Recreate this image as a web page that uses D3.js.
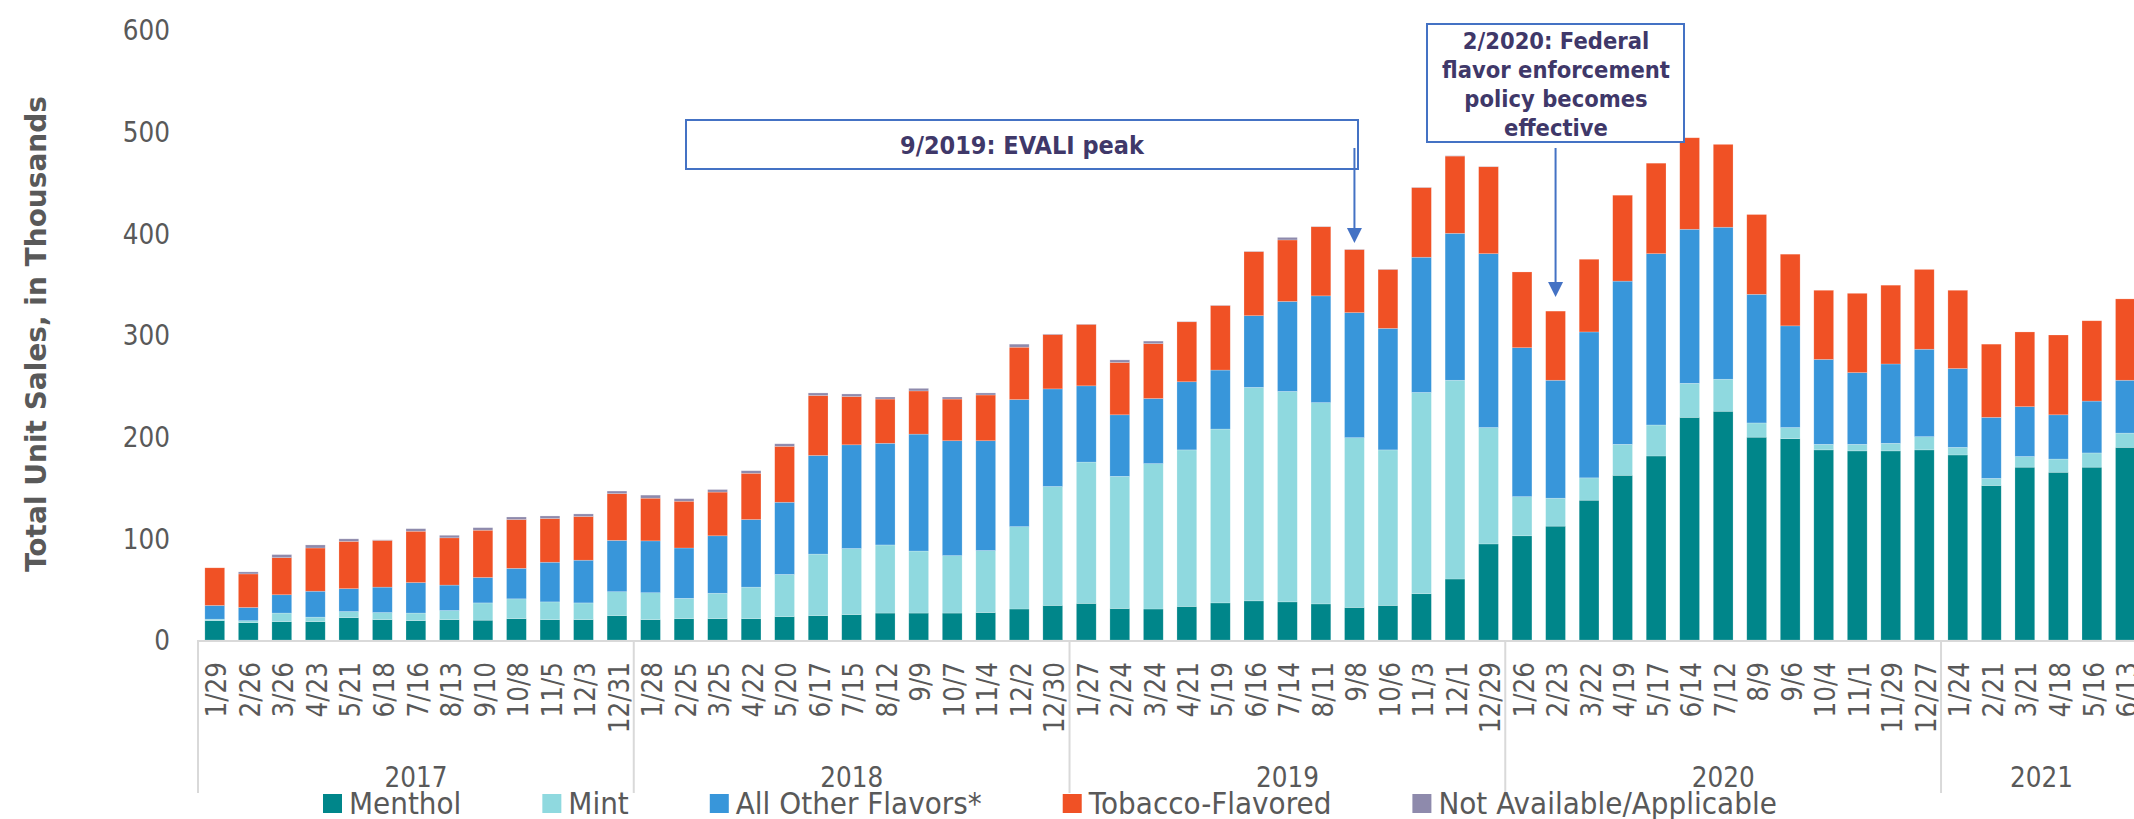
<!DOCTYPE html>
<html>
<head>
<meta charset="utf-8">
<script src="https://cdn.jsdelivr.net/npm/d3@7"></script>
<style>
  html, body { margin: 0; padding: 0; background: #ffffff; }
  svg { display: block; }
</style>
</head>
<body>
<svg id="chart" width="2134" height="819"></svg>
<script>
// ---------------- DATA ----------------
const dates = ["1/29","2/26","3/26","4/23","5/21","6/18","7/16","8/13","9/10","10/8","11/5","12/3","12/31",
  "1/28","2/25","3/25","4/22","5/20","6/17","7/15","8/12","9/9","10/7","11/4","12/2","12/30",
  "1/27","2/24","3/24","4/21","5/19","6/16","7/14","8/11","9/8","10/6","11/3","12/1","12/29",
  "1/26","2/23","3/22","4/19","5/17","6/14","7/12","8/9","9/6","10/4","11/1","11/29","12/27",
  "1/24","2/21","3/21","4/18","5/16","6/13"];
const years = ["2017","2018","2019","2020","2021"];
const yearSizes = [13, 13, 13, 13, 6];

const menthol = [19,17,18,18,22,20,19,20,19.5,21,20,20,24,
  20,21,21,21,23,24,25,26.5,26.5,26.5,27,30.5,34,
  36,31,30.5,33,36.5,38.5,37.5,35.5,32,34,45.5,60,94.5,
  102.5,112,137.5,162,181,219,225,199.5,198,187,186,186,187,
  182,152,170,165,170,189.5];
const mint = [1.5,2,8.5,4.5,6,7,7.5,9,17,19.5,17.5,16.5,23.5,
  26.5,20,25,31,41.5,60.5,65,67,61,56.5,61,81,117,
  139,130,143,154,171,210,207,198,167,153,198,195.5,114.5,
  38.5,27.5,22,30.5,30.5,33.5,31.5,14,11,5.5,6.5,7.5,13,
  7.5,7,10.5,13,14,14];
const otherFlavors = [13.5,13,18,25.5,22.5,25,30,25,25,30,39,42,50.5,
  51,49.5,56.5,66.5,71,97,102,100,115,113,108,125,96,
  75,60.5,64,67,58,70.5,88.5,105,123,119.5,133,144.5,171,
  146.5,116,143.5,160.5,168.5,151.5,149.5,126.5,100,83.5,70.5,78,86,
  77.5,60,49,43.5,51,52];
const tobacco = [37,33,36.5,42.5,46.5,46,50.5,46.5,46.5,48,43,43,46,
  42,46,43,45.5,55,59,47.5,43.5,42.5,41,45,51.5,53.5,
  60.5,51.5,54,59,63.5,63,60.5,68,62,58,68.5,76,85.5,
  74.5,68,71.5,84.5,89,90,81.5,78.5,70.5,68,78,77.5,78.5,
  77,72,73.5,78.5,79,80];
const notAvailable = [0,2,3,3,2.5,0.5,2.5,2.5,2.5,2.5,2.5,2.5,2.5,
  3,2.5,2.5,2.5,2.5,2.5,2.5,2,2.5,2,2,3,0.5,
  0.3,2.5,2.5,0.3,0.3,0.3,2.5,0.3,0.3,0.3,0.3,0.3,0.3,
  0,0,0,0,0,0,0,0,0,0,0,0,0,
  0,0,0,0,0,0];

const seriesKeys = ["menthol","mint","other","tobacco","na"];
const seriesNames = ["Menthol","Mint","All Other Flavors*","Tobacco-Flavored","Not Available/Applicable"];
const seriesColors = ["#00868A","#8FD9DF","#3896DA","#F05125","#8E8AAC"];
const yTicks = [0,100,200,300,400,500,600];
const yTitle = "Total Unit Sales, in Thousands";

const ann1 = { text: ["9/2019: EVALI peak"], target: "9/8", group: 2 };
const ann2 = { text: ["2/2020: Federal","flavor enforcement","policy becomes","effective"], target: "2/23", group: 3 };

// ---------------- SETUP ----------------
const svg = d3.select("#chart");
const W = 2134, H = 819;
const FONT = "'DejaVu Sans', Verdana, sans-serif";
const SQ = 0.9; // horizontal squeeze to mimic Tahoma
const GRAY = "#595959";

const n = dates.length;
const x0 = 198, step = 33.52;
const x = d3.scaleBand()
  .domain(d3.range(n))
  .range([x0, x0 + n * step])
  .paddingInner(0.41)
  .paddingOuter(0.205);

const y = d3.scaleLinear().domain([0, 600]).range([640, 30]);

const rows = dates.map((d, i) => ({
  i, menthol: menthol[i], mint: mint[i], other: otherFlavors[i], tobacco: tobacco[i], na: notAvailable[i]
}));
const stacked = d3.stack().keys(seriesKeys)(rows);

// ---------------- BARS ----------------
const gBars = svg.append("g");
gBars.selectAll("g.series")
  .data(stacked)
  .join("g")
  .attr("class", "series")
  .attr("fill", (d, k) => seriesColors[k])
  .selectAll("rect")
  .data(d => d)
  .join("rect")
  .attr("x", d => x(d.data.i))
  .attr("width", x.bandwidth())
  .attr("y", d => y(d[1]))
  .attr("height", d => Math.max(0, y(d[0]) - y(d[1])))
  .attr("stroke", "#ffffff")
  .attr("stroke-width", 0.6)
  .attr("stroke-opacity", 0.35);

// ---------------- Y AXIS ----------------
const gy = svg.append("g")
  .attr("transform", `translate(${x0},0)`)
  .call(d3.axisLeft(y).tickValues(yTicks).tickSize(0).tickFormat(d3.format("d")));
gy.select(".domain").remove();
gy.selectAll(".tick text")
  .attr("x", 0)
  .attr("dy", "0.36em")
  .attr("transform", `translate(-28,0) scale(${SQ},1)`)
  .attr("fill", GRAY)
  .style("font-family", FONT)
  .style("font-size", "27.5px")
  .attr("text-anchor", "end");

// Y title
svg.append("text")
  .attr("transform", `translate(46,334) rotate(-90)`)
  .attr("text-anchor", "middle")
  .attr("fill", GRAY)
  .style("font-family", FONT)
  .style("font-weight", "bold")
  .style("font-size", "28px")
  .text(yTitle);

// ---------------- X AXIS ----------------
const gx = svg.append("g")
  .attr("transform", `translate(0,${y(0)})`)
  .call(d3.axisBottom(x).tickSize(0).tickFormat(i => dates[i]));
gx.select(".domain").remove();
gx.selectAll(".tick text")
  .attr("x", 0).attr("y", 0)
  .attr("dy", "0.35em")
  .attr("transform", `translate(2,22) rotate(-90) scale(${SQ},1)`)
  .attr("text-anchor", "end")
  .attr("fill", GRAY)
  .style("font-family", FONT)
  .style("font-size", "27.5px");

// axis baseline
svg.append("line")
  .attr("x1", x0).attr("x2", W)
  .attr("y1", y(0) + 1).attr("y2", y(0) + 1)
  .attr("stroke", "#D9D9D9").attr("stroke-width", 2);

// year groups
let start = 0;
const groupInfo = yearSizes.map((s, k) => { const g = { year: years[k], start, size: s }; start += s; return g; });
const sepX = g => x0 + g.start * step;
svg.selectAll("line.sep")
  .data(groupInfo.concat([{ start: n, size: 0 }]).filter(g => x0 + g.start * step <= W))
  .join("line")
  .attr("class", "sep")
  .attr("x1", g => sepX(g)).attr("x2", g => sepX(g))
  .attr("y1", y(0)).attr("y2", 793)
  .attr("stroke", "#D9D9D9").attr("stroke-width", 2);

svg.selectAll("text.year")
  .data(groupInfo)
  .join("text")
  .attr("class", "year")
  .attr("transform", g => `translate(${x0 + (g.start + g.size / 2) * step},787) scale(${SQ},1)`)
  .attr("text-anchor", "middle")
  .attr("fill", GRAY)
  .style("font-family", FONT)
  .style("font-size", "27.5px")
  .text(g => g.year);

// ---------------- LEGEND ----------------
const gLeg = svg.append("g");
let lx = 323;
seriesNames.forEach((name, k) => {
  gLeg.append("rect")
    .attr("x", lx).attr("y", 794).attr("width", 19).attr("height", 19)
    .attr("fill", seriesColors[k]);
  const t = gLeg.append("text")
    .attr("transform", `translate(${lx + 26},814) scale(${SQ},1)`)
    .attr("fill", GRAY)
    .style("font-family", FONT)
    .style("font-size", "31px")
    .text(name);
  const w = t.node().getComputedTextLength() * SQ;
  lx += 26 + w + 81;
});

// ---------------- ANNOTATIONS ----------------
const BLUE = "#4472C4", NAVY = "#3F3869";
function idxOf(label, group) {
  const g = groupInfo[group];
  for (let i = g.start; i < g.start + g.size; i++) if (dates[i] === label) return i;
  return -1;
}
function arrow(cx, y1, tip) {
  svg.append("line").attr("x1", cx).attr("x2", cx).attr("y1", y1).attr("y2", tip - 12)
    .attr("stroke", BLUE).attr("stroke-width", 2);
  svg.append("path")
    .attr("d", `M${cx - 7.5},${tip - 15}L${cx + 7.5},${tip - 15}L${cx},${tip}Z`)
    .attr("fill", BLUE);
}

// Box 1
svg.append("rect").attr("x", 686).attr("y", 120).attr("width", 672).attr("height", 49)
  .attr("fill", "#fff").attr("stroke", BLUE).attr("stroke-width", 2);
svg.append("text")
  .attr("transform", `translate(1022,154) scale(${SQ},1)`)
  .attr("text-anchor", "middle").attr("fill", NAVY)
  .style("font-family", FONT).style("font-weight", "bold").style("font-size", "25px")
  .text(ann1.text[0]);
const i1 = idxOf(ann1.target, ann1.group);
arrow(x(i1) + x.bandwidth() / 2, 148, 243);

// Box 2
svg.append("rect").attr("x", 1427).attr("y", 24).attr("width", 257).attr("height", 118)
  .attr("fill", "#fff").attr("stroke", BLUE).attr("stroke-width", 2);
ann2.text.forEach((line, k) => {
  svg.append("text")
    .attr("transform", `translate(1556,${49 + k * 29}) scale(${SQ},1)`)
    .attr("text-anchor", "middle").attr("fill", NAVY)
    .style("font-family", FONT).style("font-weight", "bold").style("font-size", "23.5px")
    .text(line);
});
const i2 = idxOf(ann2.target, ann2.group);
arrow(x(i2) + x.bandwidth() / 2, 148, 297);
</script>
</body>
</html>
